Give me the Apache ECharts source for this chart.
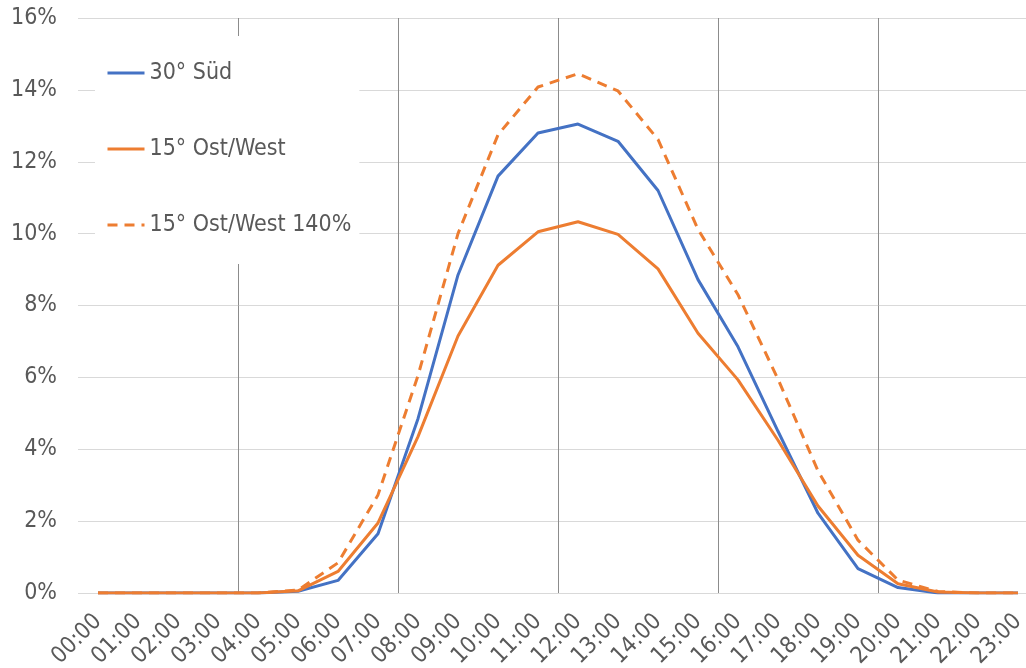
<!DOCTYPE html>
<html>
<head>
<meta charset="utf-8">
<script src="https://cdn.jsdelivr.net/npm/echarts@6/dist/echarts.min.js"></script>
<style>
html,body{margin:0;padding:0;background:#fff;overflow:hidden;}
#chart{width:1026px;height:668px;}
</style>
</head>
<body>
<div id="chart"></div>
<script>
const hours = ['00:00','01:00','02:00','03:00','04:00','05:00','06:00','07:00','08:00','09:00','10:00','11:00','12:00','13:00','14:00','15:00','16:00','17:00','18:00','19:00','20:00','21:00','22:00','23:00'];
const sued30 = [0,0,0,0,0,0.05,0.35,1.65,4.85,8.85,11.6,12.8,13.05,12.57,11.2,8.72,6.85,4.5,2.22,0.68,0.15,0,0,0];
const ostWest15 = [0,0,0,0,0,0.06,0.6,1.95,4.35,7.15,9.12,10.05,10.33,9.98,9.02,7.23,5.93,4.25,2.42,1.05,0.26,0.03,0,0];
const ostWest15x140 = [0,0,0,0,0,0.08,0.84,2.73,6.05,10.0,12.75,14.08,14.45,13.97,12.62,10.12,8.3,5.95,3.4,1.47,0.36,0.04,0,0];
const seriesNames = ['30° Süd','15° Ost/West','15° Ost/West 140%'];
// vertical gridlines sit on category boundaries, every 4 hours
const groupBoundaries = [3.5, 7.5, 11.5, 15.5, 19.5];

const hourIdx = hours.map((h, i) => i);
const pairs = vals => vals.map((v, i) => [i, v]);

const FONT = "'DejaVu Sans Condensed', 'DejaVu Sans', sans-serif";
const chart = echarts.init(document.getElementById('chart'), null, {renderer:'canvas'});
chart.setOption({
  animation:false,
  backgroundColor:'#fff',
  grid:{left:78, top:18, right:0, height:575, containLabel:false, outerBoundsMode:'none'},
  legend:{
    orient:'vertical', left:95, top:36,
    backgroundColor:'#fff',
    padding:[23,8,25,11],
    itemWidth:37, itemHeight:14, itemGap:48,
    itemStyle:{opacity:0},
    lineStyle:{width:3},
    textStyle:{fontFamily:FONT, fontSize:23, color:'#595959', lineHeight:28},
    data:seriesNames
  },
  xAxis:{
    type:'value', min:-0.5, max:23.2,
    axisLine:{show:false},
    axisTick:{show:false, customValues:groupBoundaries},
    axisLabel:{customValues:hourIdx, rotate:45, margin:25, fontFamily:FONT, fontSize:23, color:'#595959',
      formatter:function(v){return hours[Math.round(v)];}},
    splitLine:{show:true, lineStyle:{color:'#8c8c8c', width:1}}
  },
  yAxis:{
    type:'value', min:0, max:16, interval:2,
    axisLine:{show:false}, axisTick:{show:false},
    axisLabel:{formatter:'{value}%', margin:21, fontFamily:FONT, fontSize:23, color:'#595959'},
    splitLine:{lineStyle:{color:'#d9d9d9', width:1}}
  },
  series:[
    {name:seriesNames[0], type:'line', data:pairs(sued30), showSymbol:false, symbol:'none',
     lineStyle:{color:'#4472C4', width:3}, itemStyle:{color:'#4472C4'}},
    {name:seriesNames[1], type:'line', data:pairs(ostWest15), showSymbol:false, symbol:'none',
     lineStyle:{color:'#ED7D31', width:3}, itemStyle:{color:'#ED7D31'}},
    {name:seriesNames[2], type:'line', data:pairs(ostWest15x140), showSymbol:false, symbol:'none',
     lineStyle:{color:'#ED7D31', width:3, type:[10,7]}, itemStyle:{color:'#ED7D31'}}
  ]
});
</script>
</body>
</html>
